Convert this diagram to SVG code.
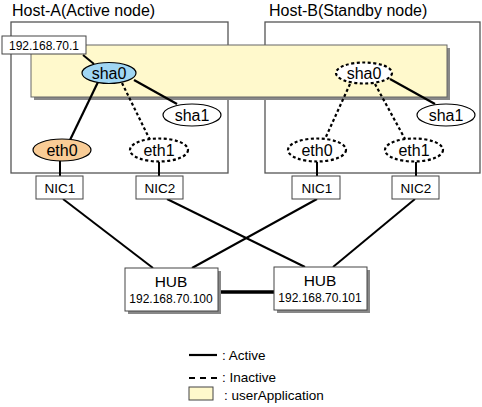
<svg xmlns="http://www.w3.org/2000/svg" width="482" height="407" viewBox="0 0 482 407">
<style>
text{font-family:"Liberation Sans",Arial,sans-serif;fill:#000}
.title{font-size:16px}
.node{font-size:16px;text-anchor:middle}
.nic{font-size:13.5px;text-anchor:middle}
.hub{font-size:15.5px;text-anchor:middle}
.ip{font-size:12px;text-anchor:middle}
.leg{font-size:13.5px}
.host{fill:#fff;stroke:#555;stroke-width:1.3}
.shadow{fill:#888;stroke:none}
.box{fill:#fff;stroke:#444;stroke-width:1}
.solid{stroke:#000;stroke-width:2.2;fill:none}
.dash{stroke:#000;stroke-width:2.2;stroke-dasharray:3,2.5;fill:none}
.thin{stroke:#000;stroke-width:2;fill:none}
.ell{stroke:#000;stroke-width:1.2}
.ellD{stroke:#000;stroke-width:2.2;stroke-dasharray:3,2.5;fill:#fff}
</style>
<rect width="482" height="407" fill="#fff"/>
<g id="host-a">
<rect class="host" x="11" y="22" width="217" height="151"/>
<text class="title" x="12" y="16">Host-A(Active node)</text>
</g>
<g id="host-b">
<rect class="host" x="265" y="22" width="215" height="151"/>
<text class="title" x="269" y="16">Host-B(Standby node)</text>
</g>
<g id="userApplication">
<rect class="shadow" x="34" y="48" width="416" height="52"/>
<rect x="31" y="45" width="416" height="52" fill="#FFF9CC" stroke="#666" stroke-width="1"/>
</g>
<g id="connectors">
<line class="thin" x1="83" y1="55" x2="94" y2="64" stroke-width="1"/>
<line class="solid" x1="98" y1="82" x2="70" y2="140"/>
<line class="dash" x1="122" y1="83" x2="150" y2="140"/>
<line class="solid" x1="134" y1="80" x2="177" y2="104"/>
<line class="thin" x1="60" y1="161" x2="60" y2="176"/>
<line class="thin" x1="159" y1="162" x2="159" y2="176"/>
<line class="solid" x1="390" y1="79" x2="435" y2="104"/>
<line class="dash" x1="350" y1="84" x2="325" y2="139"/>
<line class="dash" x1="375" y1="84" x2="405" y2="139"/>
<line class="thin" x1="317" y1="162" x2="317" y2="176"/>
<line class="thin" x1="416" y1="162" x2="416" y2="176"/>
<line class="thin" x1="63" y1="199" x2="153" y2="268"/>
<line class="thin" x1="167" y1="199" x2="305" y2="267"/>
<line class="thin" x1="317" y1="199" x2="192" y2="268"/>
<line class="thin" x1="415" y1="199" x2="333" y2="267"/>
<line x1="219" y1="292" x2="274" y2="292" stroke="#000" stroke-width="3.5"/>
</g>
<g id="ip-label">
<rect class="box" x="2" y="36" width="84" height="18"/>
<text class="ip" x="44" y="50">192.168.70.1</text>
</g>
<g id="a-sha0">
<ellipse class="ell" cx="109" cy="73" rx="27" ry="10.5" fill="#A0D6F3"/>
<text class="node" x="109" y="79">sha0</text>
</g>
<g id="a-sha1">
<ellipse class="ell" cx="192" cy="115" rx="29" ry="11" fill="#fff"/>
<text class="node" x="192" y="121">sha1</text>
</g>
<g id="a-eth0">
<ellipse class="ell" cx="62" cy="150" rx="29" ry="11" fill="#F9CC96"/>
<text class="node" x="62" y="156">eth0</text>
</g>
<g id="a-eth1">
<ellipse class="ellD" cx="159" cy="150" rx="29" ry="11.5"/>
<text class="node" x="159" y="156">eth1</text>
</g>
<g id="b-sha0">
<ellipse class="ellD" cx="364" cy="73" rx="28" ry="10.5"/>
<text class="node" x="364" y="79">sha0</text>
</g>
<g id="b-sha1">
<ellipse class="ell" cx="446" cy="115" rx="29" ry="11" fill="#fff"/>
<text class="node" x="446" y="121">sha1</text>
</g>
<g id="b-eth0">
<ellipse class="ellD" cx="317" cy="150" rx="29" ry="11.5"/>
<text class="node" x="317" y="156">eth0</text>
</g>
<g id="b-eth1">
<ellipse class="ellD" cx="414" cy="150" rx="29" ry="11.5"/>
<text class="node" x="414" y="156">eth1</text>
</g>
<g id="a-nic1">
<rect class="box" x="36" y="176" width="47" height="23"/>
<text class="nic" x="60" y="193">NIC1</text>
</g>
<g id="a-nic2">
<rect class="box" x="136" y="176" width="47" height="23"/>
<text class="nic" x="160" y="193">NIC2</text>
</g>
<g id="b-nic1">
<rect class="box" x="292" y="176" width="48" height="23"/>
<text class="nic" x="317" y="193">NIC1</text>
</g>
<g id="b-nic2">
<rect class="box" x="392" y="176" width="47" height="23"/>
<text class="nic" x="416" y="193">NIC2</text>
</g>
<g id="hub1">
<rect class="shadow" x="128" y="271" width="93" height="43"/>
<rect class="box" x="125" y="268" width="93" height="43"/>
<text class="hub" x="171" y="287">HUB</text>
<text class="ip" x="171" y="303">192.168.70.100</text>
</g>
<g id="hub2">
<rect class="shadow" x="277" y="270" width="93" height="43"/>
<rect class="box" x="274" y="267" width="93" height="43"/>
<text class="hub" x="320" y="286">HUB</text>
<text class="ip" x="320" y="302">192.168.70.101</text>
</g>
<g id="legend">
<line class="solid" x1="189" y1="355" x2="217" y2="355"/>
<text class="leg" x="222" y="360">: Active</text>
<line x1="189" y1="378" x2="217" y2="378" stroke="#000" stroke-width="2.2" stroke-dasharray="6,5"/>
<text class="leg" x="222" y="382">: Inactive</text>
<rect x="189" y="387" width="24" height="13" fill="#FFF9CC" stroke="#444" stroke-width="1"/>
<text class="leg" x="224" y="400">: userApplication</text>
</g>
</svg>
